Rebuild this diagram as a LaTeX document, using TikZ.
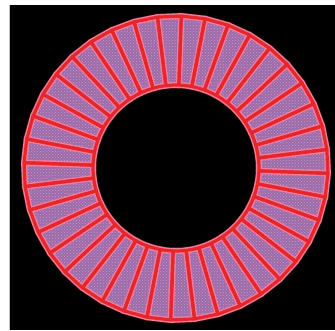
\documentclass[tikz,border=0pt]{standalone}
\usepackage{tikz}
\usetikzlibrary{patterns}
\usepackage{xcolor}
\definecolor{bladefill}{HTML}{9C6CAA}
\definecolor{bladedot}{HTML}{CC96C8}
\definecolor{rimpink}{HTML}{F27C9C}
\definecolor{rimred}{HTML}{E5262A}
\tikzset{bladebody/.style={fill=bladefill}, bladedots/.style={pattern=crosshatch dots,pattern color=bladedot}, bladerim/.style={draw=rimpink,line width=6pt,line join=round}, bladeedge/.style={draw=rimred,line width=3.2pt,line join=round}, bladeglow/.style={draw=rimred,line width=7pt,opacity=.35,line join=round}}

\begin{document}
\begin{tikzpicture}[x=1pt,y=-1pt]
\useasboundingbox (0,0) rectangle (335,330);
\fill[black] (9,5) rectangle (335,330);
\draw[black!25,line width=.6pt] (9,5) -- (9,330);
\pgfmathsetmacro{\rIn}{83}
\pgfmathsetmacro{\rOut}{152}
\begin{scope}[shift={(176,168)}]
% glow round the ring
\foreach \k in {0,...,39}{
  \pgfmathsetmacro{\a}{-88+9*\k}
  \pgfmathsetmacro{\b}{\a+9}
  \draw[bladeglow] (\a:\rIn) -- (\a:\rOut) -- (\b:\rOut) -- (\b:\rIn) arc[start angle=\b,end angle=\a,radius=\rIn] -- cycle;
}
\foreach \k in {0,...,39}{
  \pgfmathsetmacro{\a}{-88+9*\k}
  \pgfmathsetmacro{\b}{\a+9}
  \fill[bladebody] (\a:\rIn) -- (\a:\rOut) -- (\b:\rOut) -- (\b:\rIn) arc[start angle=\b,end angle=\a,radius=\rIn] -- cycle;
  \fill[bladedots] (\a:\rIn) -- (\a:\rOut) -- (\b:\rOut) -- (\b:\rIn) arc[start angle=\b,end angle=\a,radius=\rIn] -- cycle;
}
\foreach \k in {0,...,39}{
  \pgfmathsetmacro{\a}{-88+9*\k}
  \pgfmathsetmacro{\b}{\a+9}
  \draw[bladerim] (\a:\rIn) -- (\a:\rOut) -- (\b:\rOut) -- (\b:\rIn) arc[start angle=\b,end angle=\a,radius=\rIn] -- cycle;
}
\foreach \k in {0,...,39}{
  \pgfmathsetmacro{\a}{-88+9*\k}
  \pgfmathsetmacro{\b}{\a+9}
  \draw[bladeedge] (\a:\rIn) -- (\a:\rOut) -- (\b:\rOut) -- (\b:\rIn) arc[start angle=\b,end angle=\a,radius=\rIn] -- cycle;
}
\end{scope}
\end{tikzpicture}
\end{document}
